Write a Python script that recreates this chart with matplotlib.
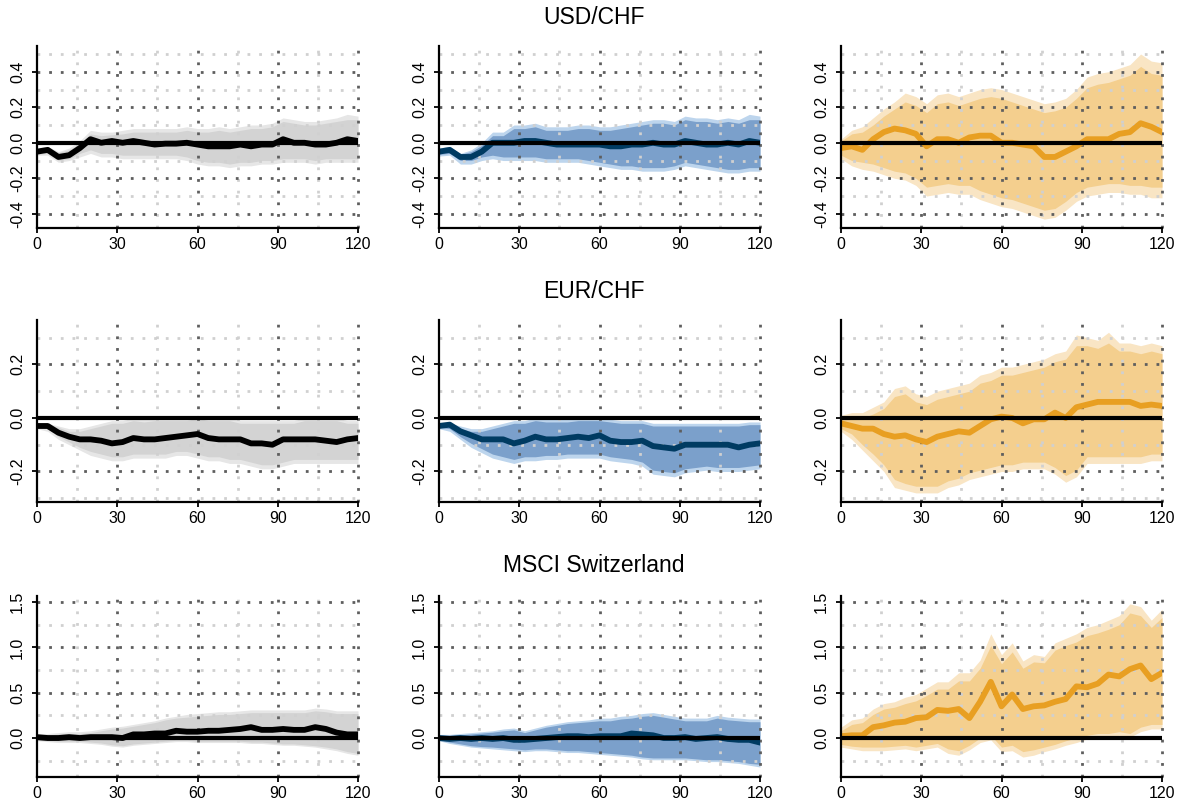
import matplotlib.pyplot as plt

plt.rcParams['font.family'] = ['Liberation Sans', 'DejaVu Sans']

# horizon in months, read every 4 months
months = list(range(0, 121, 4))

# ---- USD/CHF ----
usd_gray_mid = [-0.05, -0.04, -0.08, -0.07, -0.03, 0.02, 0.00, 0.01, 0.00, 0.01, 0.00, -0.01, -0.005, -0.005, 0.00, -0.01,
                -0.02, -0.02, -0.02, -0.01, -0.02, -0.01, -0.01, 0.02, 0.00, 0.00, -0.01, -0.01, 0.00, 0.02, 0.01]
usd_gray_out_hi = [-0.03, -0.02, -0.05, -0.03, 0.01, 0.07, 0.06, 0.06, 0.07, 0.08, 0.08, 0.08, 0.08, 0.08, 0.09, 0.08,
                   0.08, 0.09, 0.08, 0.09, 0.10, 0.10, 0.11, 0.14, 0.13, 0.12, 0.12, 0.13, 0.14, 0.16, 0.15]
usd_gray_in_hi = [-0.035, -0.025, -0.055, -0.04, -0.005, 0.05, 0.04, 0.045, 0.05, 0.06, 0.06, 0.06, 0.06, 0.06, 0.07, 0.06,
                  0.06, 0.07, 0.06, 0.07, 0.08, 0.08, 0.09, 0.12, 0.11, 0.10, 0.10, 0.11, 0.12, 0.13, 0.13]
usd_gray_in_lo = [-0.065, -0.06, -0.10, -0.09, -0.06, -0.04, -0.06, -0.06, -0.07, -0.07, -0.07, -0.07, -0.07, -0.07, -0.08, -0.10,
                  -0.11, -0.11, -0.12, -0.11, -0.11, -0.10, -0.10, -0.09, -0.09, -0.09, -0.10, -0.09, -0.09, -0.09, -0.09]
usd_gray_out_lo = [-0.07, -0.07, -0.11, -0.10, -0.08, -0.06, -0.08, -0.08, -0.09, -0.09, -0.09, -0.09, -0.09, -0.09, -0.10, -0.12,
                   -0.13, -0.13, -0.14, -0.13, -0.13, -0.12, -0.12, -0.11, -0.11, -0.11, -0.12, -0.11, -0.11, -0.11, -0.11]

usd_blue_mid = [-0.05, -0.04, -0.08, -0.08, -0.05, 0.00, 0.00, 0.00, 0.01, 0.01, 0.00, -0.01, -0.01, -0.01, -0.01, -0.01,
                -0.02, -0.02, -0.01, -0.01, 0.00, -0.01, -0.01, 0.01, 0.00, -0.01, -0.01, 0.00, -0.01, 0.01, 0.00]
usd_blue_out_hi = [-0.03, -0.02, -0.06, -0.04, 0.00, 0.06, 0.06, 0.10, 0.10, 0.11, 0.09, 0.09, 0.09, 0.10, 0.10, 0.09,
                   0.09, 0.10, 0.11, 0.12, 0.13, 0.13, 0.12, 0.15, 0.14, 0.14, 0.13, 0.14, 0.13, 0.16, 0.15]
usd_blue_in_hi = [-0.035, -0.03, -0.065, -0.05, -0.015, 0.04, 0.04, 0.08, 0.08, 0.09, 0.07, 0.07, 0.07, 0.08, 0.08, 0.07,
                  0.07, 0.08, 0.09, 0.10, 0.11, 0.11, 0.10, 0.13, 0.12, 0.12, 0.11, 0.12, 0.11, 0.13, 0.13]
usd_blue_in_lo = [-0.065, -0.06, -0.10, -0.10, -0.08, -0.07, -0.08, -0.08, -0.08, -0.08, -0.09, -0.09, -0.09, -0.09, -0.10, -0.11,
                  -0.12, -0.13, -0.13, -0.14, -0.14, -0.14, -0.13, -0.11, -0.12, -0.13, -0.14, -0.15, -0.15, -0.14, -0.14]
usd_blue_out_lo = [-0.075, -0.07, -0.12, -0.12, -0.10, -0.09, -0.10, -0.10, -0.10, -0.10, -0.11, -0.11, -0.11, -0.11, -0.12, -0.13,
                   -0.14, -0.15, -0.15, -0.16, -0.16, -0.16, -0.15, -0.13, -0.14, -0.15, -0.16, -0.17, -0.17, -0.16, -0.16]

usd_orange_mid = [-0.03, -0.02, -0.04, 0.02, 0.06, 0.08, 0.07, 0.05, -0.02, 0.02, 0.02, 0.00, 0.03, 0.04, 0.04, 0.00,
                  0.00, -0.01, -0.02, -0.08, -0.08, -0.05, -0.02, 0.02, 0.02, 0.02, 0.05, 0.06, 0.11, 0.09, 0.06]
usd_orange_out_hi = [0.02, 0.07, 0.09, 0.14, 0.19, 0.23, 0.28, 0.26, 0.22, 0.27, 0.28, 0.26, 0.28, 0.30, 0.31, 0.30,
                     0.28, 0.26, 0.24, 0.22, 0.23, 0.25, 0.30, 0.37, 0.39, 0.40, 0.42, 0.44, 0.50, 0.46, 0.45]
usd_orange_in_hi = [0.01, 0.05, 0.06, 0.10, 0.15, 0.19, 0.23, 0.21, 0.17, 0.22, 0.23, 0.21, 0.23, 0.25, 0.26, 0.25,
                    0.23, 0.21, 0.19, 0.17, 0.18, 0.20, 0.25, 0.31, 0.33, 0.34, 0.36, 0.38, 0.43, 0.39, 0.38]
usd_orange_in_lo = [-0.07, -0.10, -0.11, -0.12, -0.14, -0.16, -0.17, -0.20, -0.25, -0.24, -0.23, -0.24, -0.24, -0.27, -0.29, -0.31,
                    -0.32, -0.34, -0.36, -0.38, -0.37, -0.33, -0.28, -0.25, -0.24, -0.23, -0.23, -0.24, -0.24, -0.25, -0.25]
usd_orange_out_lo = [-0.09, -0.13, -0.15, -0.16, -0.18, -0.20, -0.21, -0.24, -0.30, -0.29, -0.28, -0.29, -0.29, -0.32, -0.34, -0.36,
                     -0.37, -0.39, -0.41, -0.43, -0.42, -0.38, -0.33, -0.30, -0.29, -0.28, -0.28, -0.29, -0.29, -0.31, -0.31]

# ---- EUR/CHF ----
eur_gray_mid = [-0.03, -0.03, -0.055, -0.07, -0.08, -0.08, -0.085, -0.095, -0.09, -0.075, -0.08, -0.08, -0.075, -0.07, -0.065, -0.06,
                -0.075, -0.08, -0.08, -0.08, -0.095, -0.095, -0.10, -0.08, -0.08, -0.08, -0.08, -0.085, -0.09, -0.08, -0.075]
eur_gray_out_hi = [-0.02, -0.02, -0.03, -0.04, -0.04, -0.03, -0.02, -0.01, -0.01, 0.00, -0.005, 0.00, 0.00, 0.00, 0.00, 0.01,
                   0.00, 0.00, 0.00, -0.01, -0.01, -0.01, -0.01, -0.01, -0.01, 0.00, 0.00, 0.00, 0.00, -0.01, -0.01]
eur_gray_in_hi = [-0.025, -0.025, -0.035, -0.05, -0.05, -0.04, -0.03, -0.02, -0.02, -0.01, -0.015, -0.01, -0.01, -0.01, -0.01, 0.00,
                  -0.01, -0.01, -0.01, -0.02, -0.02, -0.02, -0.02, -0.02, -0.02, -0.01, -0.01, -0.01, -0.01, -0.02, -0.02]
eur_gray_in_lo = [-0.035, -0.04, -0.07, -0.09, -0.11, -0.125, -0.135, -0.145, -0.145, -0.135, -0.135, -0.135, -0.135, -0.125, -0.125, -0.135,
                  -0.145, -0.145, -0.155, -0.155, -0.165, -0.175, -0.175, -0.165, -0.155, -0.155, -0.155, -0.155, -0.155, -0.155, -0.155]
eur_gray_out_lo = [-0.04, -0.05, -0.08, -0.10, -0.12, -0.14, -0.15, -0.16, -0.16, -0.15, -0.15, -0.15, -0.15, -0.14, -0.14, -0.15,
                   -0.16, -0.16, -0.17, -0.17, -0.18, -0.19, -0.19, -0.18, -0.17, -0.17, -0.17, -0.17, -0.17, -0.17, -0.17]

eur_blue_mid = [-0.03, -0.025, -0.05, -0.065, -0.08, -0.08, -0.08, -0.095, -0.085, -0.07, -0.08, -0.08, -0.075, -0.07, -0.075, -0.065,
                -0.085, -0.09, -0.09, -0.085, -0.105, -0.11, -0.115, -0.10, -0.10, -0.10, -0.10, -0.10, -0.11, -0.10, -0.095]
eur_blue_out_hi = [-0.02, -0.02, -0.03, -0.04, -0.04, -0.03, -0.02, -0.01, -0.01, 0.00, -0.005, -0.005, -0.005, 0.00, 0.00, 0.00,
                   -0.005, -0.01, -0.01, -0.01, -0.02, -0.02, -0.02, -0.02, -0.02, -0.02, -0.02, -0.02, -0.02, -0.015, -0.015]
eur_blue_in_hi = [-0.025, -0.025, -0.04, -0.05, -0.05, -0.04, -0.03, -0.02, -0.02, -0.01, -0.015, -0.015, -0.015, -0.01, -0.01, -0.01,
                  -0.015, -0.02, -0.02, -0.02, -0.03, -0.03, -0.03, -0.03, -0.03, -0.03, -0.03, -0.03, -0.03, -0.025, -0.025]
eur_blue_in_lo = [-0.035, -0.04, -0.07, -0.095, -0.115, -0.135, -0.145, -0.155, -0.145, -0.145, -0.14, -0.14, -0.135, -0.135, -0.135, -0.135,
                  -0.145, -0.15, -0.155, -0.165, -0.195, -0.20, -0.205, -0.19, -0.185, -0.18, -0.185, -0.185, -0.185, -0.18, -0.175]
eur_blue_out_lo = [-0.04, -0.05, -0.08, -0.11, -0.13, -0.15, -0.16, -0.17, -0.16, -0.16, -0.155, -0.155, -0.15, -0.15, -0.15, -0.15,
                   -0.16, -0.165, -0.17, -0.18, -0.21, -0.215, -0.22, -0.205, -0.20, -0.195, -0.20, -0.20, -0.20, -0.195, -0.19]

eur_orange_mid = [-0.02, -0.03, -0.04, -0.04, -0.06, -0.07, -0.065, -0.08, -0.09, -0.07, -0.06, -0.05, -0.055, -0.03, -0.005, 0.005,
                  0.00, -0.02, -0.005, -0.005, 0.02, 0.00, 0.04, 0.05, 0.06, 0.06, 0.06, 0.06, 0.045, 0.05, 0.045]
eur_orange_out_hi = [0.01, 0.02, 0.02, 0.04, 0.06, 0.11, 0.12, 0.09, 0.08, 0.10, 0.11, 0.12, 0.13, 0.16, 0.17, 0.19,
                     0.19, 0.20, 0.21, 0.22, 0.24, 0.25, 0.31, 0.30, 0.29, 0.32, 0.28, 0.28, 0.27, 0.28, 0.27]
eur_orange_in_hi = [0.00, 0.00, 0.00, 0.015, 0.035, 0.08, 0.09, 0.06, 0.05, 0.07, 0.08, 0.09, 0.10, 0.13, 0.14, 0.16,
                    0.16, 0.17, 0.18, 0.19, 0.21, 0.22, 0.27, 0.27, 0.26, 0.28, 0.25, 0.25, 0.24, 0.25, 0.24]
eur_orange_in_lo = [-0.04, -0.06, -0.10, -0.135, -0.175, -0.23, -0.245, -0.255, -0.255, -0.255, -0.235, -0.225, -0.205, -0.195, -0.185, -0.175,
                    -0.175, -0.165, -0.165, -0.165, -0.185, -0.215, -0.195, -0.145, -0.145, -0.145, -0.145, -0.145, -0.145, -0.135, -0.135]
eur_orange_out_lo = [-0.05, -0.08, -0.12, -0.16, -0.20, -0.26, -0.27, -0.28, -0.28, -0.28, -0.26, -0.25, -0.23, -0.22, -0.21, -0.20,
                     -0.20, -0.19, -0.19, -0.19, -0.21, -0.24, -0.22, -0.17, -0.17, -0.17, -0.17, -0.17, -0.17, -0.16, -0.16]

# ---- MSCI Switzerland ----
msci_gray_mid = [0.01, 0.00, 0.00, 0.01, 0.00, 0.01, 0.01, 0.01, 0.00, 0.04, 0.04, 0.05, 0.05, 0.08, 0.07, 0.07,
                 0.08, 0.08, 0.09, 0.10, 0.12, 0.09, 0.09, 0.10, 0.09, 0.09, 0.12, 0.10, 0.06, 0.04, 0.04]
msci_gray_out_hi = [0.04, 0.05, 0.06, 0.07, 0.07, 0.08, 0.10, 0.12, 0.13, 0.15, 0.17, 0.19, 0.22, 0.24, 0.26, 0.27,
                    0.28, 0.29, 0.29, 0.30, 0.31, 0.31, 0.31, 0.31, 0.31, 0.31, 0.33, 0.32, 0.30, 0.30, 0.30]
msci_gray_in_hi = [0.03, 0.035, 0.045, 0.05, 0.05, 0.06, 0.08, 0.10, 0.11, 0.13, 0.15, 0.17, 0.20, 0.22, 0.23, 0.24,
                   0.25, 0.26, 0.26, 0.27, 0.28, 0.28, 0.28, 0.28, 0.28, 0.28, 0.30, 0.29, 0.27, 0.27, 0.27]
msci_gray_in_lo = [-0.02, -0.03, -0.035, -0.035, -0.035, -0.045, -0.055, -0.075, -0.085, -0.065, -0.055, -0.045, -0.035, -0.025, -0.025, -0.035,
                   -0.035, -0.035, -0.035, -0.035, -0.045, -0.045, -0.055, -0.065, -0.065, -0.075, -0.085, -0.10, -0.12, -0.15, -0.17]
msci_gray_out_lo = [-0.03, -0.04, -0.05, -0.05, -0.05, -0.06, -0.07, -0.09, -0.10, -0.08, -0.07, -0.06, -0.05, -0.04, -0.04, -0.05,
                    -0.05, -0.05, -0.05, -0.05, -0.06, -0.06, -0.07, -0.08, -0.08, -0.09, -0.10, -0.12, -0.14, -0.17, -0.19]

msci_blue_mid = [0.00, -0.01, 0.00, -0.01, 0.00, -0.01, 0.00, -0.02, -0.02, -0.01, 0.00, 0.01, 0.02, 0.02, 0.01, 0.02,
                 0.02, 0.02, 0.05, 0.04, 0.03, 0.00, 0.00, 0.01, -0.01, 0.00, 0.01, -0.01, -0.02, -0.02, -0.05]
msci_blue_out_hi = [0.04, 0.04, 0.05, 0.06, 0.07, 0.08, 0.10, 0.11, 0.08, 0.11, 0.14, 0.16, 0.18, 0.19, 0.20, 0.22,
                    0.22, 0.24, 0.25, 0.27, 0.28, 0.26, 0.24, 0.22, 0.22, 0.22, 0.25, 0.23, 0.22, 0.21, 0.21]
msci_blue_in_hi = [0.03, 0.03, 0.035, 0.045, 0.055, 0.065, 0.08, 0.09, 0.06, 0.09, 0.12, 0.14, 0.16, 0.17, 0.18, 0.19,
                   0.19, 0.21, 0.22, 0.24, 0.25, 0.23, 0.21, 0.19, 0.19, 0.19, 0.22, 0.20, 0.19, 0.18, 0.18]
msci_blue_in_lo = [-0.02, -0.045, -0.065, -0.085, -0.095, -0.10, -0.11, -0.12, -0.13, -0.12, -0.12, -0.13, -0.14, -0.14, -0.15, -0.16,
                   -0.17, -0.18, -0.19, -0.21, -0.22, -0.22, -0.22, -0.22, -0.23, -0.24, -0.24, -0.25, -0.26, -0.28, -0.29]
msci_blue_out_lo = [-0.03, -0.06, -0.08, -0.10, -0.11, -0.12, -0.13, -0.14, -0.15, -0.14, -0.14, -0.15, -0.16, -0.16, -0.17, -0.18,
                    -0.19, -0.20, -0.21, -0.23, -0.24, -0.24, -0.24, -0.24, -0.25, -0.26, -0.26, -0.27, -0.28, -0.30, -0.32]

msci_orange_mid = [0.02, 0.03, 0.03, 0.12, 0.14, 0.17, 0.18, 0.22, 0.23, 0.31, 0.30, 0.32, 0.22, 0.40, 0.62, 0.35,
                   0.48, 0.32, 0.35, 0.36, 0.40, 0.43, 0.57, 0.56, 0.60, 0.70, 0.68, 0.76, 0.80, 0.65, 0.72]
msci_orange_out_hi = [0.12, 0.20, 0.22, 0.32, 0.38, 0.40, 0.45, 0.48, 0.55, 0.62, 0.62, 0.72, 0.72, 0.86, 1.15, 0.92,
                      1.05, 0.85, 0.92, 0.90, 1.05, 1.10, 1.15, 1.22, 1.25, 1.30, 1.35, 1.48, 1.45, 1.30, 1.42]
msci_orange_in_hi = [0.08, 0.15, 0.17, 0.26, 0.32, 0.34, 0.38, 0.41, 0.47, 0.54, 0.54, 0.63, 0.63, 0.77, 1.02, 0.82,
                     0.95, 0.77, 0.84, 0.83, 0.97, 1.02, 1.06, 1.13, 1.16, 1.20, 1.25, 1.38, 1.35, 1.22, 1.33]
msci_orange_in_lo = [-0.07, -0.09, -0.10, -0.10, -0.10, -0.09, -0.08, -0.10, -0.08, -0.06, -0.12, -0.14, -0.08, 0.00, 0.03, -0.10,
                     -0.08, -0.15, -0.13, -0.10, -0.07, -0.03, 0.00, 0.03, 0.05, 0.05, 0.07, 0.05, 0.12, 0.15, 0.15]
msci_orange_out_lo = [-0.10, -0.12, -0.14, -0.14, -0.14, -0.13, -0.12, -0.14, -0.12, -0.10, -0.17, -0.19, -0.13, -0.05, -0.02, -0.15,
                      -0.14, -0.21, -0.19, -0.15, -0.12, -0.08, -0.05, -0.01, 0.01, 0.01, 0.03, 0.01, 0.07, 0.10, 0.10]

row_titles = ["USD/CHF", "EUR/CHF", "MSCI Switzerland"]
x_ticks = [0, 30, 60, 90, 120]
x_minor = [15, 45, 75, 105]
y_ticks = [[-0.4, -0.2, 0.0, 0.2, 0.4], [-0.2, 0.0, 0.2], [0.0, 0.5, 1.0, 1.5]]
y_minor = [[-0.3, -0.1, 0.1, 0.3, 0.5], [-0.3, -0.1, 0.1, 0.3], [-0.25, 0.25, 0.75, 1.25]]
y_lims = [(-0.48, 0.545), (-0.314, 0.366), (-0.43, 1.567)]

panels = [
    [(usd_gray_mid, usd_gray_in_lo, usd_gray_in_hi, usd_gray_out_lo, usd_gray_out_hi),
     (usd_blue_mid, usd_blue_in_lo, usd_blue_in_hi, usd_blue_out_lo, usd_blue_out_hi),
     (usd_orange_mid, usd_orange_in_lo, usd_orange_in_hi, usd_orange_out_lo, usd_orange_out_hi)],
    [(eur_gray_mid, eur_gray_in_lo, eur_gray_in_hi, eur_gray_out_lo, eur_gray_out_hi),
     (eur_blue_mid, eur_blue_in_lo, eur_blue_in_hi, eur_blue_out_lo, eur_blue_out_hi),
     (eur_orange_mid, eur_orange_in_lo, eur_orange_in_hi, eur_orange_out_lo, eur_orange_out_hi)],
    [(msci_gray_mid, msci_gray_in_lo, msci_gray_in_hi, msci_gray_out_lo, msci_gray_out_hi),
     (msci_blue_mid, msci_blue_in_lo, msci_blue_in_hi, msci_blue_out_lo, msci_blue_out_hi),
     (msci_orange_mid, msci_orange_in_lo, msci_orange_in_hi, msci_orange_out_lo, msci_orange_out_hi)],
]

# (outer band, inner band, line)
colours = [("#e6e6e6", "#d3d3d3", "#000000"),
           ("#bdd5ed", "#7ba0cb", "#003b62"),
           ("#f9e5c4", "#f4cf8e", "#e89f22")]

W, H = 1188, 810
col_left = [37, 439, 841]
col_width = 321
row_px = [(46, 228), (320, 502), (596, 777)]
title_y = [18, 292, 565]

fig = plt.figure(figsize=(W / 100, H / 100), dpi=100)

dots = (0, (1, 3.2))

for r in range(3):
    top, bot = row_px[r]
    fig.text(0.5, 1 - title_y[r] / H, row_titles[r], ha='center', va='center', fontsize=16.5)
    for c in range(3):
        ax = fig.add_axes([col_left[c] / W, 1 - bot / H, col_width / W, (bot - top) / H])
        mid, in_lo, in_hi, out_lo, out_hi = panels[r][c]
        c_out, c_in, c_line = colours[c]

        ax.fill_between(months, out_lo, out_hi, color=c_out, lw=0, zorder=1)
        ax.fill_between(months, in_lo, in_hi, color=c_in, lw=0, zorder=1.5)

        for yv in y_minor[r]:
            ax.axhline(yv, color='#d0d0d0', lw=2.0, ls=dots, zorder=2)
        for xv in x_minor:
            ax.axvline(xv, color='#d0d0d0', lw=2.0, ls=dots, zorder=2)
        for yv in y_ticks[r]:
            ax.axhline(yv, color='#5e5e5e', lw=2.0, ls=dots, zorder=2.1)
        for xv in x_ticks[1:]:
            ax.axvline(xv, color='#5e5e5e', lw=2.0, ls=dots, zorder=2.1, clip_on=False)

        ax.plot(months, mid, color=c_line, lw=4.2, solid_joinstyle='round', zorder=3)
        ax.axhline(0, color='black', lw=3.0, zorder=4)

        ax.set_xlim(0, 120)
        ax.set_ylim(*y_lims[r])
        ax.set_xticks(x_ticks)
        ax.set_yticks(y_ticks[r])
        ax.set_yticklabels([f"{v:.1f}" for v in y_ticks[r]])
        for s in ['top', 'right']:
            ax.spines[s].set_visible(False)
        for s in ['left', 'bottom']:
            ax.spines[s].set_linewidth(1.6)
            ax.spines[s].set_zorder(5)
        ax.tick_params(axis='both', direction='out', length=3.5, width=1.3, labelsize=11.5)
        ax.tick_params(axis='x', pad=3)
        ax.tick_params(axis='y', pad=5, labelrotation=90)
        for lab in ax.get_yticklabels():
            lab.set_va('center')

fig.savefig('out.png', dpi=100)
